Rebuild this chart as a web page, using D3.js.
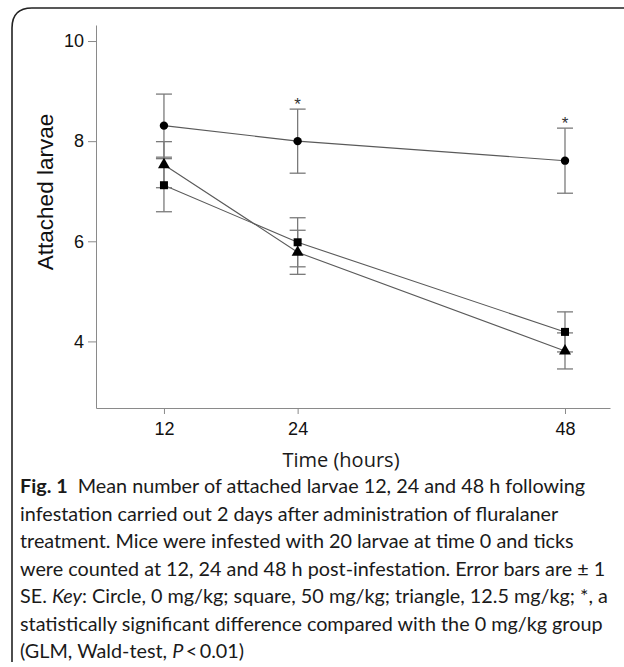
<!DOCTYPE html>
<html><head><meta charset="utf-8">
<script src="https://cdn.jsdelivr.net/npm/d3@7"></script>
<style>body{margin:0;background:#fff}svg{display:block}</style>
</head><body>
<svg id="c" width="624" height="667"></svg>
<script>
const hours = [12, 24, 48];
const xTickLabels = ["12", "24", "48"];
const yTicks = [4, 6, 8, 10];
const circleMean = [8.31, 8.0, 7.61];
const circleSE = [0.63, 0.64, 0.65];
const squareMean = [7.12, 5.98, 4.19];
const squareSE = [0.53, 0.49, 0.40];
const triangleMean = [7.53, 5.78, 3.81];
const triangleSE = [0.46, 0.44, 0.36];
const significant = [false, true, true];

const svg = d3.select("#c");
const x = d3.scaleLinear().domain([5.9, 52.04]).range([96, 610]);
const y = d3.scaleLinear().domain([2.67, 10.32]).range([408, 25]);

// frame
svg.append("path").attr("d", "M12,662 L12,28 Q12,8 32,8 L624,8")
  .attr("fill", "none").attr("stroke", "#222").attr("stroke-width", 1.6);

const axisCol = "#8a8a8a";
const gy = svg.append("g").attr("transform", "translate(96,0)")
  .call(d3.axisLeft(y).tickValues(yTicks).tickSize(8).tickSizeOuter(0).tickPadding(4).tickFormat(d3.format("d")));
const gx = svg.append("g").attr("transform", "translate(0,408)")
  .call(d3.axisBottom(x).tickValues(hours).tickSize(6).tickSizeOuter(0).tickPadding(8).tickFormat((d, i) => xTickLabels[i]));
[gy, gx].forEach(g => {
  g.select(".domain").attr("stroke", axisCol);
  g.selectAll(".tick line").attr("stroke", axisCol);
  g.selectAll(".tick text").attr("fill", "#111")
    .style("font-family", "'Liberation Sans', Arial, sans-serif").style("font-size", "18px");
});

svg.append("text").attr("transform", "translate(53,192) rotate(-90)")
  .attr("text-anchor", "middle").attr("fill", "#111")
  .style("font-family", "'Liberation Sans', Arial, sans-serif").style("font-size", "22.5px")
  .text("Attached larvae");
svg.append("text").attr("x", 341).attr("y", 467).attr("text-anchor", "middle").attr("fill", "#1a1a1a")
  .style("font-family", "'Open Sans', sans-serif").style("font-size", "20px")
  .text("Time (hours)");

const series = [
  {mean: circleMean, se: circleSE, shape: d3.symbolCircle, size: 55},
  {mean: squareMean, se: squareSE, shape: d3.symbolSquare, size: 64},
  {mean: triangleMean, se: triangleSE, shape: d3.symbolTriangle, size: 62}
];
const line = d3.line().x(d => x(d[0])).y(d => y(d[1]));
const errCol = "#7a7a7a";
series.forEach(s => {
  const pts = hours.map((h, i) => [h, s.mean[i], s.se[i]]);
  svg.append("path").attr("d", line(pts)).attr("fill", "none").attr("stroke", "#5a5a5a").attr("stroke-width", 1.1);
  pts.forEach(p => {
    const g = svg.append("g").attr("stroke", errCol).attr("stroke-width", 1.3);
    g.append("line").attr("x1", x(p[0])).attr("x2", x(p[0])).attr("y1", y(p[1] - p[2])).attr("y2", y(p[1] + p[2]));
    [p[1] - p[2], p[1] + p[2]].forEach(v => g.append("line")
      .attr("x1", x(p[0]) - 8).attr("x2", x(p[0]) + 8).attr("y1", y(v)).attr("y2", y(v)));
  });
});
series.forEach(s => {
  hours.forEach((h, i) => {
    svg.append("path").attr("d", d3.symbol().type(s.shape).size(s.size)())
      .attr("transform", `translate(${x(h)},${y(s.mean[i])})`).attr("fill", "#000");
  });
});
hours.forEach((h, i) => {
  if (!significant[i]) return;
  svg.append("text").attr("x", x(h)).attr("y", y(circleMean[i] + circleSE[i]) + 1)
    .attr("text-anchor", "middle").attr("fill", "#333")
    .style("font-family", "'Liberation Sans', Arial, sans-serif").style("font-size", "17px").text("*");
});

// caption
const capLines = [
  [["Fig. 1", "b"], ["  Mean number of attached larvae 12, 24 and 48 h following", ""]],
  [["infestation carried out 2 days after administration of fluralaner", ""]],
  [["treatment. Mice were infested with 20 larvae at time 0 and ticks", ""]],
  [["were counted at 12, 24 and 48 h post-infestation. Error bars are \u00b1 1", ""]],
  [["SE. ", ""], ["Key", "i"], [": Circle, 0 mg/kg; square, 50 mg/kg; triangle, 12.5 mg/kg; *, a", ""]],
  [["statistically significant difference compared with the 0 mg/kg group", ""]],
  [["(GLM, Wald-test, ", ""], ["P", "i"], ["\u2009<\u20090.01)", ""]]
];
const cap = svg.append("g").attr("fill", "#1a1a1a")
  .style("font-family", "Lato, sans-serif").style("font-size", "19.8px");
capLines.forEach((ln, i) => {
  const t = cap.append("text").attr("x", 20).attr("y", 493 + i * 27.5).attr("xml:space", "preserve");
  ln.forEach(seg => {
    const ts = t.append("tspan").text(seg[0]);
    if (seg[1] === "b") ts.attr("font-weight", "bold");
    if (seg[1] === "i") ts.attr("font-style", "italic");
  });
});
</script>
</body></html>
